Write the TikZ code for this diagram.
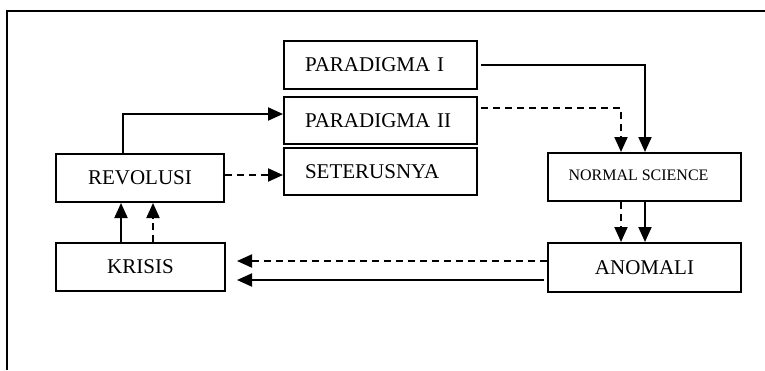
\documentclass[tikz,border=0pt]{standalone}
\usepackage{fontspec}
\setmainfont{Liberation Serif}
\usetikzlibrary{arrows.meta,calc}
\newcommand{\linew}{2pt}
\newcommand{\boxw}{193pt}
\newcommand{\bigfont}{\fontsize{21}{25}\selectfont}
\newcommand{\smallfont}{\fontsize{16}{19}\selectfont}
\begin{document}
\begin{tikzpicture}[x=1pt,y=-1pt]
            \useasboundingbox (0,0) rectangle (765,370);
            \tikzset{
                stage/.style = {draw, line width=\linew, inner sep=0pt, minimum height=48pt, font=\bigfont},
                leftstage/.style = {stage, text width=151pt, inner xsep=21pt, align=left},
                link/.style = {line width=\linew, -{Triangle[length=15pt,width=13pt]}},
                dlink/.style = {link, dash pattern=on 7pt off 5pt}
            }
            %\draw[help lines] (0,0) grid[step=50] (765,370);
            \draw[line width=1.2pt] (765,11) -- (7,11) -- (7,370);

            \node[leftstage] (par1) at (380.5,65) {PARADIGMA I};
            \node[leftstage, minimum height=47pt] (par2) at (380.5,120.5) {PARADIGMA II};
            \node[leftstage, minimum height=47pt] (seter) at (380.5,171.5) {SETERUSNYA};

            \node[stage, minimum width=168pt] (rev) at (140,178) {REVOLUSI};
            \node[stage, minimum width=169pt] (kris) at (140.5,267) {KRISIS};

            \node[stage, minimum width=\boxw, font=\smallfont] (norm) at (644.5,177) {\hspace*{-12pt}\raisebox{3pt}{NORMAL SCIENCE}};
            \node[stage, minimum width=\boxw, minimum height=49pt] (anom) at (644.5,267.5) {ANOMALI};

            % turning points
            \coordinate (p1) at (645,65);
            \coordinate (p2) at (621,108);
            \coordinate (r1) at (123,114);
            \coordinate (r2) at (0,175);
            \coordinate (k1) at (237,261);
            \coordinate (k2) at (237,280);

            \draw[link] ($(par1.east |- p1)+(3,0)$) -| (p1 |- norm.north);
            \draw[dlink] ($(par2.east |- p2)+(3,0)$) -| (p2 |- norm.north);
            \draw[link] (r1 |- rev.north) |- (par2.west |- r1);
            \draw[dlink] (rev.east |- r2) -- (seter.west |- r2);

            \draw[dlink] (norm.south -| p2) -- (anom.north -| p2);
            \draw[link] (norm.south -| p1) -- (anom.north -| p1);

            \draw[dlink] (anom.west |- k1) -- (k1);
            \draw[link] ($(anom.west |- k2)+(-3,0)$) -- (k2);

            \draw[link] (kris.north -| 121,0) -- (rev.south -| 121,0);
            \draw[dlink] (kris.north -| 153,0) -- (rev.south -| 153,0);
        \end{tikzpicture}
\end{document}
